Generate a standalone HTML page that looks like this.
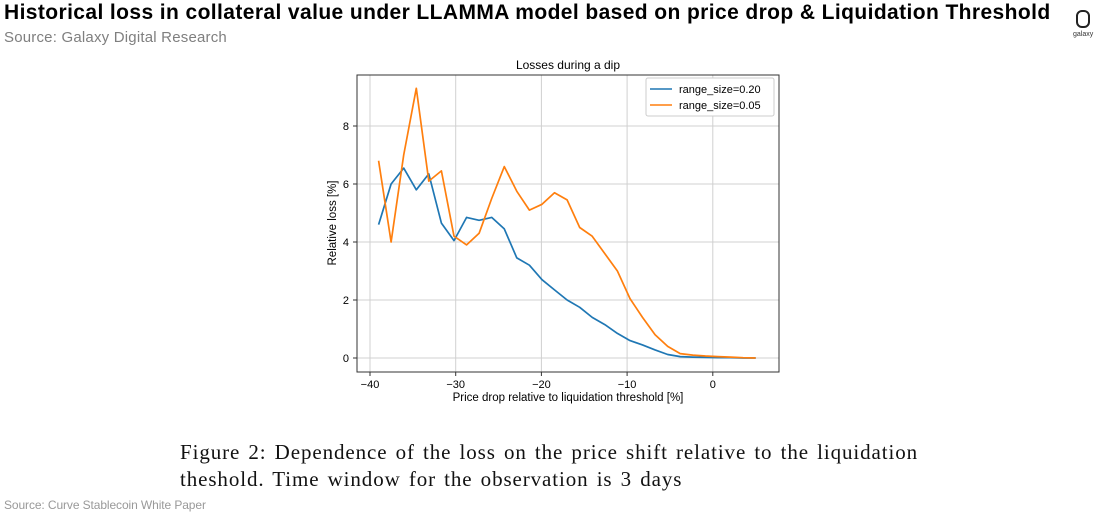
<!DOCTYPE html>
<html><head><meta charset="utf-8"><style>
body{margin:0;width:1100px;height:513px;background:#fff;overflow:hidden;position:relative;font-family:"Liberation Sans",sans-serif}
.a{position:absolute;white-space:nowrap}
</style></head><body>
<div class="a" style="left:4px;top:1px;font-size:21px;font-weight:bold;color:#000;letter-spacing:0.4px">Historical loss in collateral value under LLAMMA model based on price drop &amp; Liquidation Threshold</div>
<div class="a" style="left:4px;top:29px;font-size:15px;color:#7f7f7f;letter-spacing:0.2px">Source: Galaxy Digital Research</div>
<div class="a" style="left:1076px;top:10px;width:14px;height:18px;border:2px solid #222;border-radius:6px;box-sizing:border-box"></div>
<div class="a" style="left:1073px;top:31px;font-size:7px;color:#333">galaxy</div>
<svg class="a" style="left:0;top:0" width="1100" height="513" id="chart" font-family="Liberation Sans, sans-serif">
<text x="568" y="69" font-size="12" text-anchor="middle">Losses during a dip</text>
<g id="grid"></g><g id="series"></g>
<rect x="357" y="75" width="422" height="297" fill="none" stroke="#333" stroke-width="1"/>
<text x="568" y="401" font-size="11.5" text-anchor="middle">Price drop relative to liquidation threshold [%]</text>
<text transform="translate(336,223) rotate(-90)" font-size="11.5" text-anchor="middle">Relative loss [%]</text>
<g>
<rect x="646" y="78" width="128" height="38" fill="#fff" stroke="#ccc" rx="2"/>
<line x1="650" y1="89" x2="672" y2="89" stroke="#1f77b4" stroke-width="1.6"/>
<text x="679" y="93" font-size="11">range_size=0.20</text>
<line x1="650" y1="105" x2="672" y2="105" stroke="#ff7f0e" stroke-width="1.6"/>
<text x="679" y="109" font-size="11">range_size=0.05</text>
</g>
</svg>
<div class="a" style="left:180px;top:439px;font-family:'Liberation Serif',serif;font-size:21px;line-height:27px;letter-spacing:0.9px;word-spacing:2px;color:#111">Figure 2: Dependence of the loss on the price shift relative to the liquidation<br>theshold. Time window for the observation is 3 days</div>
<div class="a" style="left:4px;top:498px;font-size:12px;color:#999;letter-spacing:-0.1px">Source: Curve Stablecoin White Paper</div>
<script>
const xStart=-39, xEnd=5;
const blueValues=[4.6,6.0,6.55,5.8,6.35,4.65,4.05,4.85,4.75,4.85,4.45,3.45,3.2,2.7,2.35,2.0,1.75,1.4,1.15,0.85,0.6,0.45,0.28,0.12,0.05,0.03,0.02,0.01,0.01,0.0,0.0];
const orangeValues=[6.8,4.0,7.0,9.3,6.1,6.45,4.2,3.9,4.3,5.5,6.6,5.75,5.1,5.3,5.7,5.45,4.5,4.2,3.6,3.0,2.05,1.4,0.8,0.4,0.15,0.1,0.07,0.05,0.03,0.01,0.0];
const xTicks=[-40,-30,-20,-10,0];
const xTickLabels=["\u221240","\u221230","\u221220","\u221210","0"];
const yTicks=[0,2,4,6,8];
const NS="http://www.w3.org/2000/svg";
const xs=v=>370+(v+40)*8.57;
const ys=v=>358-v*29;
const grid=document.getElementById('grid');
function mk(t,a,p){const e=document.createElementNS(NS,t);for(const k in a)e.setAttribute(k,a[k]);p.appendChild(e);return e;}
xTicks.forEach((t,i)=>{
  const l=mk('line',{x1:xs(t),x2:xs(t),y1:75,y2:372,stroke:'#d0d0d0','stroke-width':1},grid);
  
  
  mk('line',{x1:xs(t),x2:xs(t),y1:372,y2:376,stroke:'#333'},grid);
  const tx=mk('text',{x:xs(t),y:388,'font-size':11,'text-anchor':'middle'},grid);
  tx.textContent=xTickLabels[i];
  
  
});
yTicks.forEach(t=>{
  const l=mk('line',{x1:357,x2:779,y1:ys(t),y2:ys(t),stroke:'#d0d0d0','stroke-width':1},grid);
  
  
  mk('line',{x1:353,x2:357,y1:ys(t),y2:ys(t),stroke:'#333'},grid);
  const tx=mk('text',{x:349,y:ys(t)+4,'font-size':11,'text-anchor':'end'},grid);
  tx.textContent=t;
  
  
});
const ser=document.getElementById('series');
function draw(vals,color,name){
  const n=vals.length;
  const pts=vals.map((v,i)=>xs(xStart+(xEnd-xStart)*i/(n-1)).toFixed(1)+','+ys(v).toFixed(1)).join(' ');
  const p=mk('polyline',{points:pts,fill:'none',stroke:color,'stroke-width':1.7,'stroke-linejoin':'round'},ser);
  
  
}
draw(blueValues,'#1f77b4','line-range-0-20');
draw(orangeValues,'#ff7f0e','line-range-0-05');
</script>
</body></html>
